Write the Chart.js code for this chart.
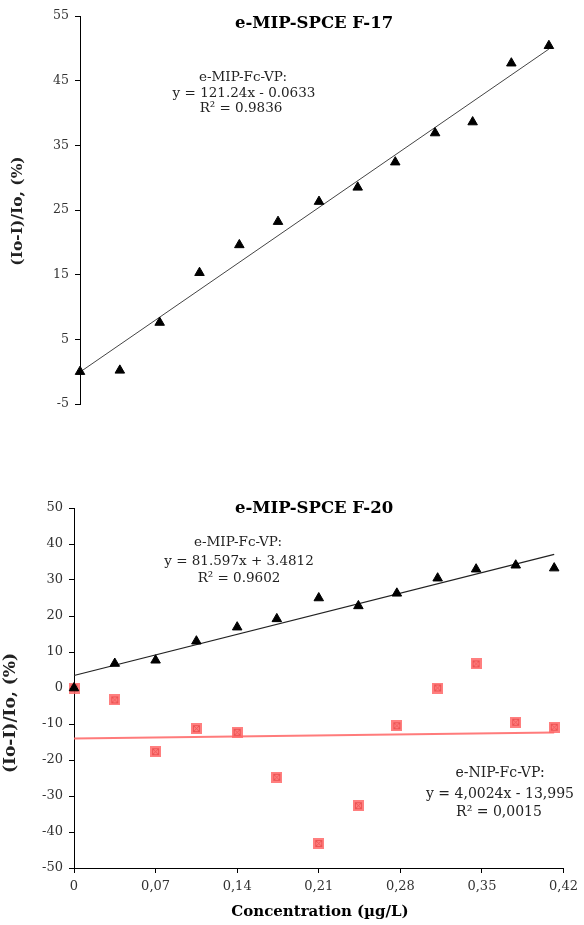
<!DOCTYPE html>
<html>
<head>
<meta charset="utf-8">
<script src="https://cdn.jsdelivr.net/npm/chart.js@4/dist/chart.umd.min.js"></script>
<style>
  html, body { margin: 0; padding: 0; background: #fff; }
  #wrap { position: relative; width: 584px; height: 925px; }
  .box { position: absolute; left: 0; width: 584px; }
  #topBox { top: 0; height: 460px; }
  #botBox { top: 460px; height: 465px; }
</style>
</head>
<body>
<div id="wrap">
  <div class="box" id="topBox"><canvas id="f17"></canvas></div>
  <div class="box" id="botBox"><canvas id="f20"></canvas></div>
</div>
<script>
// concentration (µg/L), shared by both panels
const CONC = [0, 0.035, 0.07, 0.105, 0.14, 0.174, 0.21, 0.244, 0.277, 0.312, 0.345, 0.379, 0.412];

// (Io-I)/Io, %
const F17_MIP = [0.0, 0.2, 7.6, 15.3, 19.6, 23.2, 26.3, 28.5, 32.4, 36.9, 38.6, 47.7, 50.4];
const F20_MIP = [0.0, 6.8, 7.7, 13.0, 16.9, 19.2, 25.0, 22.8, 26.3, 30.5, 33.0, 34.1, 33.3];
const F20_NIP = [0.0, -3.3, -17.7, -11.3, -12.3, -24.8, -43.2, -32.7, -10.5, 0.0, 6.7, -9.5, -10.9];

// trendline coefficients as printed on the chart
const FIT_F17_MIP = [121.24, -0.0633];
const FIT_F20_MIP = [81.597, 3.4812];
const FIT_F20_NIP = [4.0024, -13.995];

const Y_TICKS_F17 = [-5, 55, 10];
const Y_TICKS_F20 = [-50, 50, 10];
const X_TICKS = [0, 0.42, 0.07];

const SERIF = '"DejaVu Serif", "Liberation Serif", serif';
const INK = '#222';

const pts = (xs, ys) => xs.map((x, i) => ({ x, y: ys[i] }));
const fitLine = ([m, b]) => {
  const x0 = CONC[0], x1 = CONC[CONC.length - 1];
  return [{ x: x0, y: m * x0 + b }, { x: x1, y: m * x1 + b }];
};

// red square-with-cross marker used for the NIP series
function crossBox() {
  const c = document.createElement('canvas');
  c.width = 11; c.height = 11;
  const g = c.getContext('2d');
  g.fillStyle = 'rgba(255,105,105,0.85)';
  g.fillRect(0, 0, 11, 11);
  g.strokeStyle = 'rgba(235,80,80,0.9)';
  g.lineWidth = 1;
  g.strokeRect(2.5, 2.5, 6, 6);
  g.beginPath();
  g.moveTo(2.5, 2.5); g.lineTo(8.5, 8.5);
  g.moveTo(8.5, 2.5); g.lineTo(2.5, 8.5);
  g.stroke();
  return c;
}

// draws titles, equations and axis titles
const textLayer = {
  id: 'textLayer',
  afterDraw(chart, args, opts) {
    const ctx = chart.ctx;
    ctx.save();
    ctx.textBaseline = 'middle';
    for (const t of opts.items || []) {
      ctx.font = t.font;
      ctx.fillStyle = t.color || INK;
      ctx.textAlign = 'center';
      if (t.rotate) {
        ctx.save();
        ctx.translate(t.x, t.y);
        ctx.rotate(-Math.PI / 2);
        ctx.fillText(t.text, 0, 0);
        ctx.restore();
      } else {
        ctx.fillText(t.text, t.x, t.y);
      }
    }
    ctx.restore();
  }
};

function axisY([min, max, step], width, fontSize) {
  return {
    min, max,
    afterFit(s) { s.width = width; },
    grid: { drawOnChartArea: false, drawTicks: true, tickLength: 5, color: '#000' },
    border: { display: true, color: '#000', width: 1 },
    ticks: { stepSize: step, color: '#333', padding: 6, font: { family: SERIF, size: fontSize }, callback: v => String(v) },
  };
}

// ── F-17 panel ─────────────────────────────────────────────────────────
new Chart(document.getElementById('f17'), {
  type: 'scatter',
  data: {
    datasets: [
      {
        label: 'e-MIP-Fc-VP',
        data: pts(CONC, F17_MIP),
        pointStyle: 'triangle',
        pointRadius: 5.5,
        backgroundColor: '#000',
        borderColor: '#000',
        borderWidth: 1,
        clip: false,
        order: 0,
      },
      {
        label: 'fit',
        data: fitLine(FIT_F17_MIP),
        showLine: true,
        pointRadius: 0,
        borderColor: '#444',
        borderWidth: 1,
        clip: false,
        order: 2,
      },
    ],
  },
  options: {
    responsive: true,
    maintainAspectRatio: false,
    animation: false,
    devicePixelRatio: 1,
    layout: { padding: { top: 16, bottom: 56, left: 0, right: 26 } },
    plugins: {
      legend: { display: false },
      tooltip: { enabled: false },
      textLayer: {
        items: [
          { text: 'e-MIP-SPCE F-17', x: 314, y: 24, font: `bold 16.5px ${SERIF}`, color: '#000' },
          { text: 'e-MIP-Fc-VP:', x: 243, y: 77, font: `13.5px ${SERIF}` },
          { text: 'y = 121.24x - 0.0633', x: 244, y: 93, font: `13.5px ${SERIF}` },
          { text: 'R² = 0.9836', x: 241, y: 108, font: `13.5px ${SERIF}` },
          { text: '(Io-I)/Io, (%)', x: 18, y: 211, font: `bold 15.5px ${SERIF}`, rotate: true },
        ],
      },
    },
    scales: {
      x: { type: 'linear', min: X_TICKS[0], max: X_TICKS[1], display: false },
      y: axisY(Y_TICKS_F17, 80, 12.5),
    },
  },
  plugins: [textLayer],
});

// ── F-20 panel ─────────────────────────────────────────────────────────
new Chart(document.getElementById('f20'), {
  type: 'scatter',
  data: {
    datasets: [
      {
        label: 'e-MIP-Fc-VP',
        data: pts(CONC, F20_MIP),
        pointStyle: 'triangle',
        pointRadius: 5.5,
        backgroundColor: '#000',
        borderColor: '#000',
        borderWidth: 1,
        clip: false,
        order: 0,
      },
      {
        label: 'e-NIP-Fc-VP',
        data: pts(CONC, F20_NIP),
        pointStyle: crossBox(),
        clip: false,
        order: 1,
      },
      {
        label: 'fit MIP',
        data: fitLine(FIT_F20_MIP),
        showLine: true,
        pointRadius: 0,
        borderColor: '#222',
        borderWidth: 1.2,
        clip: false,
        order: 2,
      },
      {
        label: 'fit NIP',
        data: fitLine(FIT_F20_NIP),
        showLine: true,
        pointRadius: 0,
        borderColor: 'rgba(255,100,100,0.85)',
        borderWidth: 2,
        clip: false,
        order: 3,
      },
    ],
  },
  options: {
    responsive: true,
    maintainAspectRatio: false,
    animation: false,
    devicePixelRatio: 1,
    layout: { padding: { top: 48, bottom: 0, left: 0, right: 19 } },
    plugins: {
      legend: { display: false },
      tooltip: { enabled: false },
      textLayer: {
        items: [
          { text: 'e-MIP-SPCE F-20', x: 314, y: 49, font: `bold 16.5px ${SERIF}`, color: '#000' },
          { text: 'e-MIP-Fc-VP:', x: 238, y: 82, font: `13.5px ${SERIF}` },
          { text: 'y = 81.597x + 3.4812', x: 239, y: 101, font: `13.5px ${SERIF}` },
          { text: 'R² = 0.9602', x: 239, y: 118, font: `13.5px ${SERIF}` },
          { text: 'e-NIP-Fc-VP:', x: 500, y: 313, font: `14px ${SERIF}` },
          { text: 'y = 4,0024x - 13,995', x: 500, y: 334, font: `14px ${SERIF}` },
          { text: 'R² = 0,0015', x: 499, y: 352, font: `14px ${SERIF}` },
          { text: 'Concentration (µg/L)', x: 320, y: 452, font: `bold 15px ${SERIF}`, color: '#000' },
          { text: '(Io-I)/Io, (%)', x: 11, y: 253, font: `bold 17px ${SERIF}`, rotate: true },
        ],
      },
    },
    scales: {
      x: {
        type: 'linear',
        min: X_TICKS[0], max: X_TICKS[1],
        afterFit(s) { s.height = 57; },
        grid: { drawOnChartArea: false, drawTicks: true, tickLength: 5, color: '#000' },
        border: { display: true, color: '#000', width: 1 },
        ticks: {
          stepSize: X_TICKS[2], color: '#333', padding: 6, maxRotation: 0,
          font: { family: SERIF, size: 13 },
          callback: v => (v === 0 ? '0' : v.toFixed(2).replace('.', ',')),
        },
      },
      y: axisY(Y_TICKS_F20, 74, 13),
    },
  },
  plugins: [textLayer],
});
</script>
</body>
</html>
